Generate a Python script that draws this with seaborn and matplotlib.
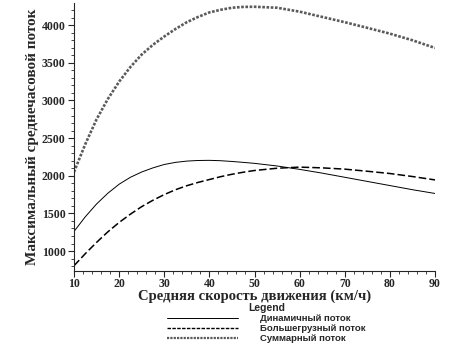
import matplotlib
matplotlib.use("Agg")
import matplotlib.pyplot as plt
from matplotlib.ticker import MultipleLocator
from matplotlib.lines import Line2D
import seaborn as sns
import pandas as pd

speed = [10, 12.5, 15, 17.5, 20, 22.5, 25, 27.5, 30, 32.5, 35, 37.5, 40, 42.5, 45, 47.5, 50,
         55, 60, 65, 70, 75, 80, 85, 90]
dynamic = [1260, 1455, 1625, 1768, 1888, 1980, 2050, 2105, 2150, 2178, 2195, 2203, 2205, 2200, 2190,
           2178, 2165, 2130, 2085, 2035, 1980, 1925, 1870, 1815, 1765]
heavy = [805, 965, 1115, 1255, 1380, 1490, 1590, 1675, 1750, 1815, 1868, 1912, 1950, 1988, 2020,
         2047, 2070, 2100, 2115, 2105, 2088, 2060, 2030, 1990, 1945]
total = [2050, 2420, 2750, 3020, 3250, 3445, 3610, 3740, 3850, 3950, 4040, 4110, 4170, 4205, 4232,
         4243, 4245, 4232, 4180, 4110, 4040, 3965, 3888, 3800, 3698]

labels = ["Динамичный поток", "Большегрузный поток", "Суммарный поток"]
xlabel = "Средняя скорость движения (км/ч)"
ylabel = "Максимальный среднечасовой поток"

sns.set_style("ticks")
plt.rcParams['font.family'] = ['Liberation Serif', 'DejaVu Serif']

fig = plt.figure(figsize=(4.76, 3.55), dpi=100)
ax = fig.add_axes([74/476, 1-271/355, (435-74)/476, (271-3)/355])

df = pd.DataFrame({"speed": speed, "dyn": dynamic, "heavy": heavy, "total": total})
sns.lineplot(data=df, x="speed", y="total", ax=ax, color="#5a5a5a", lw=1.9,
             linestyle=(0, (1.0, 0.6)))
sns.lineplot(data=df, x="speed", y="dyn", ax=ax, color="black", lw=0.7)
sns.lineplot(data=df, x="speed", y="heavy", ax=ax, color="black", lw=1.1,
             linestyle=(0, (5, 2)))

ax.set_xlim(10, 90)
ax.set_ylim(735, 4295)
ax.xaxis.set_major_locator(MultipleLocator(10))
ax.xaxis.set_minor_locator(MultipleLocator(2))
ax.yaxis.set_major_locator(MultipleLocator(500))
ax.yaxis.set_minor_locator(MultipleLocator(100))
ax.set_yticks([1000, 1500, 2000, 2500, 3000, 3500, 4000])
ax.spines['top'].set_visible(False)
ax.spines['right'].set_visible(False)
for s in ('left', 'bottom'):
    ax.spines[s].set_linewidth(0.8)
ax.tick_params(axis='both', which='major', length=4, width=0.8, labelsize=8.5, pad=2)
ax.tick_params(axis='x', which='major', pad=1)
ax.tick_params(axis='both', which='minor', length=2, width=0.6)
for t in ax.get_xticklabels() + ax.get_yticklabels():
    t.set_fontweight('bold')
ax.set_xlabel(xlabel, fontsize=10.5, fontweight='bold', labelpad=0)
ax.set_ylabel(ylabel, fontsize=11, fontweight='bold', labelpad=2)

handles = [
    Line2D([], [], color='black', lw=0.7),
    Line2D([], [], color='black', lw=1.0, linestyle=(0, (2.5, 1))),
    Line2D([], [], color='#5a5a5a', lw=1.6, linestyle=(0, (1, 0.5))),
]
sans = ['Liberation Sans Narrow', 'Liberation Sans', 'DejaVu Sans']
leg = fig.legend(handles, labels, loc='upper left', bbox_to_anchor=(167/476, 1-303/355),
                 frameon=False, handlelength=7.5, handletextpad=2.4, labelspacing=0.1,
                 borderaxespad=0, borderpad=0, title="Legend",
                 prop={'family': sans, 'size': 6.8, 'weight': 'bold'},
                 title_fontproperties={'family': sans, 'size': 7.5, 'weight': 'bold'})
leg._legend_box.align = "center"

fig.savefig("out.png", dpi=100)
